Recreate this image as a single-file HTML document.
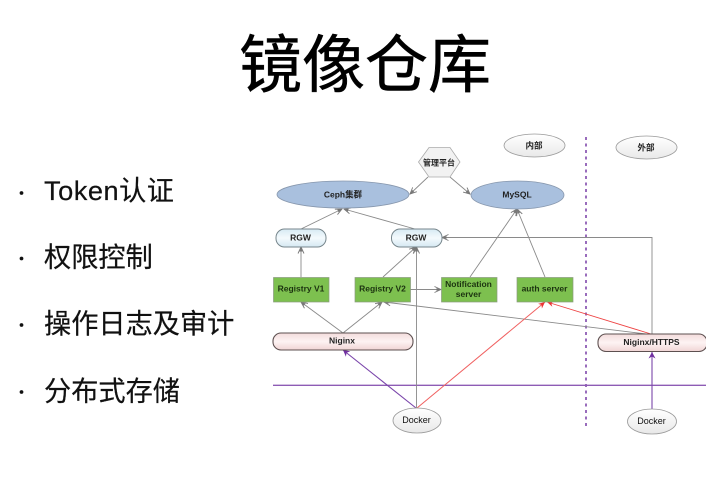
<!DOCTYPE html>
<html lang="zh">
<head>
<meta charset="utf-8">
<style>
html,body{margin:0;padding:0;background:#fff;}
body{width:706px;height:492px;overflow:hidden;position:relative;font-family:"Liberation Sans","Noto Sans CJK SC",sans-serif;}
svg{position:absolute;left:0;top:0;}
.d{filter:blur(0.35px);}
.l{font-family:"Liberation Sans","Noto Sans CJK SC",sans-serif;font-size:8.500px;font-weight:bold;fill:#222;text-anchor:middle;}
</style>
</head>
<body>
<svg width="706" height="492" viewBox="0 0 706 492" xmlns="http://www.w3.org/2000/svg">
<defs>
<marker id="g" markerWidth="8" markerHeight="8" refX="7" refY="4" orient="auto" markerUnits="userSpaceOnUse"><path d="M0.500 1L7 4L0.500 7" fill="none" stroke="#777" stroke-width="0.900"/><path d="M7 4L2.500 2.500V5.500Z" fill="#777"/></marker>
<marker id="r" markerWidth="8" markerHeight="8" refX="7" refY="4" orient="auto" markerUnits="userSpaceOnUse"><path d="M7 4L0.500 1L2.500 4L0.500 7Z" fill="#ee3333"/></marker>
<marker id="p" markerWidth="8" markerHeight="8" refX="7" refY="4" orient="auto" markerUnits="userSpaceOnUse"><path d="M7 4L0.500 0.500L2.500 4L0.500 7.500Z" fill="#7030a0"/></marker>
<linearGradient id="pink" x1="0" y1="0" x2="0" y2="1"><stop offset="0" stop-color="#f3dcdc"/><stop offset=".5" stop-color="#fdf3f3"/><stop offset="1" stop-color="#f0d4d4"/></linearGradient>
<linearGradient id="blue" x1="0" y1="0" x2="0" y2="1"><stop offset="0" stop-color="#d6e9f3"/><stop offset=".5" stop-color="#f4fafd"/><stop offset="1" stop-color="#d5e8f2"/></linearGradient>
<linearGradient id="grey" x1="0" y1="0" x2="0" y2="1"><stop offset="0" stop-color="#ffffff"/><stop offset="1" stop-color="#e8e8e8"/></linearGradient>
</defs>

<text x="365" y="87" font-size="63" text-anchor="middle" fill="#000" stroke="#000" stroke-width="0.500" font-family="'Liberation Sans','WenQuanYi Zen Hei',sans-serif">镜像仓库</text>

<g fill="#111" stroke="#111" stroke-width="0.200" font-size="27.200" font-family="'Liberation Sans','WenQuanYi Zen Hei',sans-serif">
<circle cx="21.500" cy="193" r="1.800"/>
<circle cx="21.500" cy="258.500" r="1.800"/>
<circle cx="21.500" cy="325" r="1.800"/>
<circle cx="21.500" cy="392" r="1.800"/>
<text x="44" y="200" textLength="130" lengthAdjust="spacing">Token认证</text>
<text x="44" y="266.500">权限控制</text>
<text x="44" y="333">操作日志及审计</text>
<text x="44" y="400.500">分布式存储</text>
</g>

<g class="d">
<line x1="273" y1="385.300" x2="706" y2="385.300" stroke="#8e5cb5" stroke-width="1.300"/>
<line x1="586" y1="137" x2="586" y2="429" stroke="#8e5cb5" stroke-width="1.800" stroke-dasharray="3 3.500"/>

<g fill="none" stroke="#8a8a8a" stroke-width="0.900">
<line x1="428" y1="177" x2="410" y2="194" marker-end="url(#g)"/>
<line x1="450" y1="177" x2="470" y2="194" marker-end="url(#g)"/>
<line x1="301" y1="229" x2="342" y2="209" marker-end="url(#g)"/>
<line x1="415" y1="229" x2="344" y2="209" marker-end="url(#g)"/>
<line x1="301" y1="277" x2="301" y2="247" marker-end="url(#g)"/>
<line x1="383" y1="277" x2="416" y2="247" marker-end="url(#g)"/>
<line x1="416.500" y1="408" x2="416.500" y2="247" marker-end="url(#g)"/>
<line x1="410" y1="289.500" x2="441" y2="289.500" marker-end="url(#g)"/>
<line x1="470" y1="277" x2="517" y2="209" marker-end="url(#g)"/>
<line x1="545" y1="277" x2="517" y2="209" marker-end="url(#g)"/>
<line x1="343" y1="333" x2="301" y2="302" marker-end="url(#g)"/>
<line x1="343" y1="333" x2="382" y2="302" marker-end="url(#g)"/>
<line x1="646" y1="334" x2="384" y2="302" marker-end="url(#g)"/>
<path d="M652 334V237.500H442" marker-end="url(#g)"/>
</g>
<line x1="651" y1="334" x2="547" y2="302" stroke="#ee4444" stroke-width="0.900" marker-end="url(#r)"/>
<line x1="417" y1="408" x2="545" y2="302" stroke="#f06060" stroke-width="1" marker-end="url(#r)"/>
<line x1="416" y1="408" x2="343" y2="350" stroke="#7a45aa" stroke-width="1.100" marker-end="url(#p)"/>
<line x1="652" y1="409" x2="652" y2="352" stroke="#7a45aa" stroke-width="1.100" marker-end="url(#p)"/>

<polygon points="418.500,162 429,147.500 450,147.500 460,162 450,177 429,177" fill="#f2f2f2" stroke="#aaa" stroke-width="0.800"/>
<text class="l" x="439" y="165.500" style="font-size:8px">管理平台</text>

<ellipse cx="343" cy="194.500" rx="66" ry="13.500" fill="#a9c0de" stroke="#8797ad" stroke-width="0.800"/>
<text class="l" x="343" y="197.500">Ceph集群</text>
<ellipse cx="517.500" cy="195" rx="46.500" ry="14" fill="#a9c0de" stroke="#8797ad" stroke-width="0.800"/>
<text class="l" x="517" y="197.500">MySQL</text>

<ellipse cx="534.500" cy="145.500" rx="30.500" ry="11.500" fill="url(#grey)" stroke="#999" stroke-width="0.800"/>
<text class="l" x="534" y="148.500">内部</text>
<ellipse cx="646.500" cy="147.500" rx="30.500" ry="11.500" fill="url(#grey)" stroke="#999" stroke-width="0.800"/>
<text class="l" x="646" y="150.500">外部</text>

<rect x="276" y="229" width="50" height="18" rx="8.500" fill="url(#blue)" stroke="#77868c" stroke-width="1"/>
<text class="l" x="300.500" y="240.500">RGW</text>
<rect x="391.500" y="229" width="50.500" height="18" rx="8.500" fill="url(#blue)" stroke="#77868c" stroke-width="1"/>
<text class="l" x="416" y="240.500">RGW</text>

<g fill="#7dc04f" stroke="#8a9a80" stroke-width="0.700">
<rect x="273.500" y="277.500" width="55.500" height="24.500"/>
<rect x="355" y="277.500" width="55.500" height="24.500"/>
<rect x="441.500" y="277.500" width="55.500" height="24.500"/>
<rect x="517" y="277.500" width="56" height="24.500"/>
</g>
<g class="l" style="fill:#1c3310">
<text x="301" y="291.500">Registry V1</text>
<text x="382.500" y="291.500">Registry V2</text>
<text x="468.500" y="287">Notification</text>
<text x="468.500" y="297">server</text>
<text x="544.500" y="291.500">auth server</text>
</g>

<rect x="273" y="333" width="140" height="17" rx="8" fill="url(#pink)" stroke="#5d5050" stroke-width="1.100"/>
<text class="l" x="342" y="343.500">Niginx</text>
<rect x="598" y="334" width="109" height="17.500" rx="8" fill="url(#pink)" stroke="#5d5050" stroke-width="1.100"/>
<text class="l" x="651.500" y="345">Niginx/HTTPS</text>

<ellipse cx="417" cy="420.500" rx="24" ry="12.500" fill="url(#grey)" stroke="#999" stroke-width="0.800"/>
<text class="l" x="416.500" y="423" style="font-size:9px;font-weight:normal;fill:#111">Docker</text>
<ellipse cx="652" cy="421.500" rx="24.500" ry="12.500" fill="url(#grey)" stroke="#999" stroke-width="0.800"/>
<text class="l" x="651.500" y="424" style="font-size:9px;font-weight:normal;fill:#111">Docker</text>
</g>
</svg>
</body>
</html>
